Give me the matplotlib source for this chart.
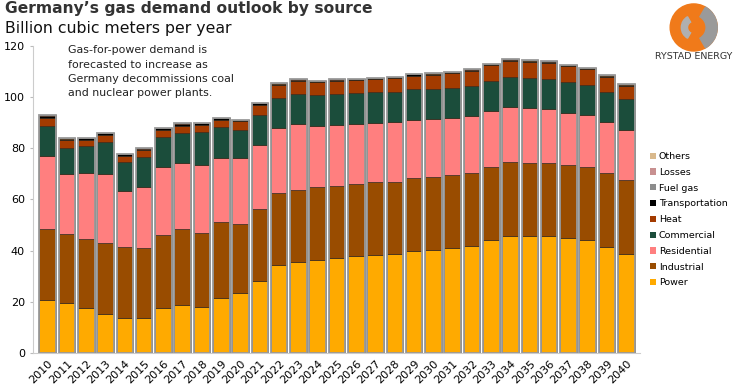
import matplotlib.pyplot as plt
from matplotlib.patches import Circle, Wedge, Patch
import numpy as np

years = [str(y) for y in range(2010, 2041)]

# cumulative tops (bcm/yr)
power_top = [20.7, 19.4, 17.6, 15.4, 13.8, 13.8, 17.7, 18.8, 18.1, 21.6, 23.6,
             28.3, 34.3, 35.4, 36.5, 37.1, 37.8, 38.2, 38.6, 39.9, 40.3, 40.9,
             42.0, 44.3, 45.9, 45.9, 45.8, 44.8, 44.0, 41.6, 38.6]
industrial_top = [48.6, 46.5, 44.6, 43.0, 41.3, 41.0, 46.2, 48.4, 46.9, 51.1, 50.5,
                  56.1, 62.4, 63.6, 64.8, 65.4, 66.0, 66.7, 67.0, 68.3, 68.8, 69.5,
                  70.5, 72.8, 74.5, 74.3, 74.2, 73.4, 72.7, 70.2, 67.5]
residential_top = [77.2, 70.1, 70.5, 70.0, 63.2, 64.8, 72.6, 74.3, 73.4, 76.3, 76.1,
                   81.3, 88.0, 89.5, 88.9, 89.2, 89.6, 90.0, 90.3, 91.2, 91.5, 91.7,
                   92.6, 94.6, 96.0, 95.6, 95.2, 93.9, 92.9, 90.3, 87.3]
commercial_top = [88.6, 80.3, 80.8, 82.4, 74.7, 76.7, 84.4, 86.1, 86.4, 88.2, 87.0,
                  93.0, 99.8, 101.4, 100.9, 101.2, 101.6, 101.9, 102.2, 103.1, 103.1, 103.6,
                  104.5, 106.3, 107.8, 107.4, 107.0, 105.8, 104.8, 102.0, 99.2]
heat_top = [92.0, 83.1, 83.3, 85.2, 77.0, 79.2, 87.2, 88.9, 89.1, 91.0, 90.5,
            96.9, 104.6, 106.3, 105.8, 106.5, 106.8, 107.2, 107.5, 108.4, 108.7, 109.3,
            110.4, 112.6, 114.3, 113.9, 113.5, 112.1, 110.9, 108.0, 104.5]
total = [92.9, 83.9, 84.2, 86.1, 77.8, 80.0, 88.0, 89.8, 90.0, 91.9, 91.2,
         97.8, 105.4, 107.0, 106.5, 107.0, 107.3, 107.6, 108.0, 109.1, 109.3, 109.9,
         110.9, 113.1, 114.8, 114.4, 114.1, 112.6, 111.5, 108.5, 105.0]

power = np.array(power_top)
industrial = np.array(industrial_top) - np.array(power_top)
residential = np.array(residential_top) - np.array(industrial_top)
commercial = np.array(commercial_top) - np.array(residential_top)
heat = np.array(heat_top) - np.array(commercial_top)
rest = np.array(total) - np.array(heat_top)
fuel_gas = np.full(len(years), 0.1)
losses = np.full(len(years), 0.05)
others = np.full(len(years), 0.05)
transportation = rest - fuel_gas - losses - others

series = [("Power", power, "#FFAA00"),
          ("Industrial", industrial, "#994C00"),
          ("Residential", residential, "#FF7F7F"),
          ("Commercial", commercial, "#1B4D3B"),
          ("Heat", heat, "#A33B00"),
          ("Transportation", transportation, "#000000"),
          ("Fuel gas", fuel_gas, "#8C8C8C"),
          ("Losses", losses, "#C89090"),
          ("Others", others, "#D9B98C")]

fig = plt.figure(figsize=(7.38, 3.87), dpi=100)
ax = fig.add_axes([0.045, 0.088, 0.822, 0.793])

x = np.arange(len(years))
bottom = np.zeros(len(years))
for name, vals, col in series:
    ax.bar(x, vals, 0.86, bottom=bottom, color=col, edgecolor="#3a2a1a",
           linewidth=0.5, zorder=2)
    bottom = bottom + vals
# light grey outline around each bar
ax.bar(x, bottom, 0.86, facecolor="none", edgecolor="#9a9a9a", linewidth=1.3, zorder=3)

ax.set_xlim(-0.75, 30.7)
ax.set_ylim(0, 120)
ax.set_yticks(range(0, 121, 20))
ax.set_xticks(x)
ax.set_xticklabels(years, rotation=45, ha="right", rotation_mode="anchor", fontsize=8)
ax.tick_params(axis="y", labelsize=8, length=2, color="#bbbbbb", pad=4)
ax.tick_params(axis="x", length=0, pad=4)
for s in ["top", "right"]:
    ax.spines[s].set_visible(False)
for s in ["left", "bottom"]:
    ax.spines[s].set_color("#cccccc")

ax.text(1.05, 120.3, "Gas-for-power demand is\nforecasted to increase as\nGermany decommissions coal\nand nuclear power plants.",
        fontsize=7.9, va="top", ha="left", color="#222222", linespacing=1.55)

handles = [Patch(facecolor=col, edgecolor="none") for _, _, col in series][::-1]
fig.legend(handles, [s[0] for s in series][::-1], loc="upper left",
           bbox_to_anchor=(0.875, 0.617), frameon=False, fontsize=6.8,
           handlelength=0.65, handleheight=0.65, handletextpad=0.35,
           labelspacing=0.72, borderaxespad=0)

fig.text(0.007, 0.997, "Germany\u2019s gas demand outlook by source", fontsize=11.2,
         fontweight="bold", color="#333333", va="top")
fig.text(0.007, 0.945, "Billion cubic meters per year", fontsize=11.3, color="#111111", va="top")

# logo
lax = fig.add_axes([0.905, 0.865, 0.07, 0.128])
lax.set_xlim(-1, 1)
lax.set_ylim(-1, 1)
lax.set_aspect("equal")
lax.axis("off")
lax.add_patch(Circle((0, 0), 0.95, color="#F07A1A"))
lax.add_patch(Wedge((0, 0), 0.95, -60, 60, width=0.45, color="#9a9a9a"))
lax.add_patch(Wedge((0, 0), 0.5, 120, 240, width=0.25, color="#b0b0b0"))
fig.text(0.94, 0.865, "RYSTAD ENERGY", fontsize=6.8, ha="center", va="top", color="#333333")

fig.savefig("out.png", dpi=100)
